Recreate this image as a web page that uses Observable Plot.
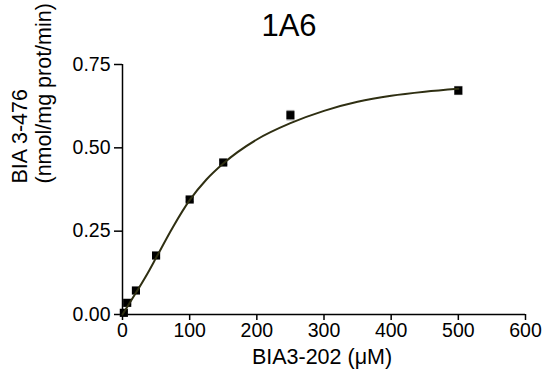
<!DOCTYPE html>
<html>
<head>
<meta charset="utf-8">
<script src="https://cdn.jsdelivr.net/npm/d3@7"></script>
<script src="https://cdn.jsdelivr.net/npm/@observablehq/plot@0.6"></script>
<style>
  html, body { margin: 0; padding: 0; background: #fff; }
  #chart svg { display: block; }
</style>
</head>
<body>
<div id="chart"></div>
<script>
// Measured points (substrate concentration, activity)
const concentration = [2, 7, 20, 50, 100, 150, 250, 500];
const activity = [0.005, 0.035, 0.072, 0.177, 0.345, 0.456, 0.598, 0.672];
const activityErr = [0.004, 0.004, 0.005, 0.006, 0.006, 0.006, 0.014, 0.012];

// Fitted curve
const curveX = [0, 20, 40, 50, 75, 100, 125, 150, 200, 250, 300, 350, 400, 450, 500];
const curveY = [0, 0.065, 0.133, 0.170, 0.262, 0.343, 0.405, 0.453, 0.525, 0.574, 0.611, 0.638, 0.656, 0.668, 0.677];

const xTicks = [0, 100, 200, 300, 400, 500, 600];
const yTicks = [0, 0.25, 0.50, 0.75];

const titleText = "1A6";
const xLabel = "BIA3-202 (μM)";
const yLabel = "BIA 3-476\n(nmol/mg prot/min)";

const points = concentration.map((c, i) => ({x: c, y: activity[i], lo: activity[i] - activityErr[i], hi: activity[i] + activityErr[i]}));
const curve = curveX.map((c, i) => ({x: c, y: curveY[i]}));

const capSymbol = {
  draw(context, size) {
    const w = Math.sqrt(size) / 2;
    context.moveTo(-w, 0);
    context.lineTo(w, 0);
  }
};

const font = "Liberation Sans, Arial, Helvetica, sans-serif";

const chart = Plot.plot({
  width: 545,
  height: 384,
  marginLeft: 122,
  marginRight: 20,
  marginTop: 64,
  marginBottom: 70,
  style: {fontFamily: font, background: "#fff", color: "#000"},
  x: {domain: [0, 600]},
  y: {domain: [0, 0.75]},
  marks: [
    Plot.axisX({ticks: xTicks, tickSize: 6, tickPadding: 3, fontSize: 19.5, label: null, strokeWidth: 1.5, tickFormat: d3.format("d")}),
    Plot.axisY({ticks: yTicks, tickSize: 8, tickPadding: 4, fontSize: 19.5, label: null, strokeWidth: 1.5, tickFormat: d3.format(".2f")}),
    Plot.ruleY([0], {stroke: "#000", strokeWidth: 1.5}),
    Plot.ruleX([0], {stroke: "#000", strokeWidth: 1.5}),
    Plot.ruleX(points, {x: "x", y1: "lo", y2: "hi", stroke: "#999", strokeWidth: 1.2}),
    Plot.dot(points, {x: "x", y: "lo", symbol: capSymbol, r: 4.5, stroke: "#999", strokeWidth: 1.2}),
    Plot.dot(points, {x: "x", y: "hi", symbol: capSymbol, r: 4.5, stroke: "#999", strokeWidth: 1.2}),
    Plot.dot(points, {x: "x", y: "y", symbol: "square", r: 4.6, fill: "#000", stroke: "none"}),
    Plot.line(curve, {x: "x", y: "y", curve: "monotone-x", stroke: "#2f2f12", strokeWidth: 2}),
    Plot.text([titleText], {frameAnchor: "top", dx: -35, dy: -38, fontSize: 31, lineAnchor: "middle", fill: "#000"}),
    Plot.text([xLabel], {frameAnchor: "bottom", dx: -2, dy: 43, fontSize: 21.5, lineAnchor: "middle", fill: "#000"}),
    Plot.text([yLabel], {frameAnchor: "left", dx: -91, dy: -6, rotate: -90, fontSize: 21.5, lineHeight: 1.08, lineAnchor: "middle", fill: "#000"})
  ]
});

document.getElementById("chart").appendChild(chart);
</script>
</body>
</html>
